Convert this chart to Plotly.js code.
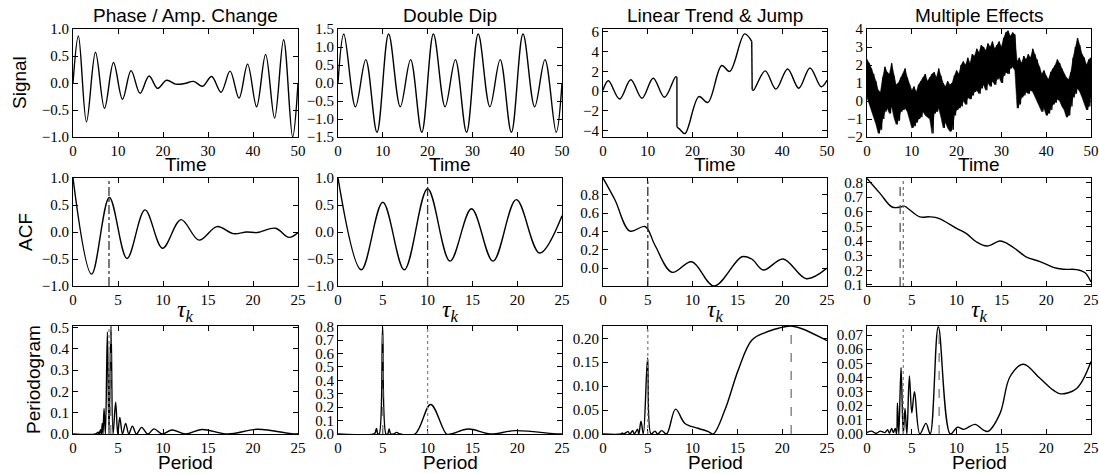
<!DOCTYPE html>
<html><head><meta charset="utf-8">
<script src="https://cdn.plot.ly/plotly-3.0.1.min.js"></script>
<style>html,body{margin:0;padding:0;background:#fff}#chart{width:1099px;height:473px}</style>
</head><body><div id="chart"></div>
<script>
// ---------- column titles & axis labels ----------
const columnTitles = ["Phase / Amp. Change", "Double Dip", "Linear Trend & Jump", "Multiple Effects"];
const rowLabels = ["Signal", "ACF", "Periodogram"];
const rowXLabels = ["Time", "<i>τ</i><sub><i>k</i></sub>", "Period"];

// ---------- Row 1: signals (extrema) ----------
const sig1T = [0, 1.2, 3.0, 5.0, 7.0, 9.0, 11.0, 12.9, 14.9, 16.9, 18.8, 20.8, 22.8, 24.8, 26.8, 28.8, 30.8, 32.9, 34.9, 36.9, 38.8, 40.8, 42.8, 44.8, 46.8, 48.8, 50];
const sig1V = [0, 0.87, -0.72, 0.57, -0.47, 0.38, -0.30, 0.23, -0.19, 0.13, -0.10, 0.05, -0.02, -0.01, 0.03, -0.06, 0.12, -0.17, 0.22, -0.28, 0.35, -0.44, 0.53, -0.65, 0.80, -1.0, 0.0];

const sig2T = [0, 1.3, 3.9, 6.2, 8.7, 11.3, 13.9, 16.2, 18.7, 21.3, 23.9, 26.2, 28.7, 31.3, 33.9, 36.2, 38.7, 41.3, 43.9, 46.2, 48.7, 50];
const sig2V = [0, 1.36, -0.66, 0.65, -1.37, 1.36, -0.66, 0.65, -1.37, 1.36, -0.66, 0.65, -1.37, 1.36, -0.66, 0.65, -1.37, 1.36, -0.66, 0.65, -1.37, 0.0];

const sig3aT = [0, 1.2, 3.7, 6.2, 8.7, 11.2, 13.7, 16.2, 16.5];
const sig3aV = [0.1, 1.05, -0.8, 1.15, -0.72, 1.3, -0.62, 1.45, 1.4];
const sig3bT = [16.5, 17.1, 18.3, 21.4, 23.4, 26.5, 28.3, 31.6, 33.2];
const sig3bV = [-3.6, -3.85, -4.3, -0.55, -1.15, 2.6, 2.0, 5.8, 5.05];
const sig3cT = [33.3, 33.6, 36.2, 38.6, 41.2, 43.7, 46.2, 48.7, 50];
const sig3cV = [0.15, 0.1, 2.05, 0.2, 2.25, 0.3, 2.35, 0.45, 1.1];

// noisy signal: upper / lower envelope every 0.5 time units (t = 0 ... 50)
const sig4Hi = [2.3,2.1,1.8,1.5,1.1,0.6,0.5,1.3,1.9,1.6,1.5,2.1,1.4,0.9,1.0,1.3,1.5,1.8,1.3,0.9,
  0.6,0.8,0.5,0.9,1.1,1.3,1.5,1.1,1.3,1.5,1.6,1.3,1.8,1.4,1.0,0.8,1.1,0.9,1.0,1.4,
  1.7,1.5,2.0,2.2,2.0,2.4,2.1,2.6,2.5,2.9,2.7,3.1,3.0,2.8,3.2,3.0,3.3,2.9,3.1,3.3,
  3.0,3.5,3.8,3.9,3.6,3.8,3.7,2.2,2.4,2.1,2.5,2.3,2.6,2.4,2.9,2.6,2.3,1.9,1.5,1.7,
  1.4,1.2,1.6,1.8,2.0,2.3,2.1,1.8,1.5,1.3,1.2,1.6,2.4,3.0,3.5,3.1,2.6,2.4,2.0,2.3,2.4];
const sig4Lo = [0.2,-0.2,-0.6,-0.9,-1.3,-1.8,-1.6,-1.0,-0.6,-0.4,-0.7,-0.3,-0.9,-1.3,-1.1,-0.6,-0.5,-0.4,-0.6,-1.0,
  -1.5,-1.4,-1.2,-1.0,-0.9,-0.6,-0.8,-0.9,-1.0,-1.8,-0.7,-0.6,-0.4,-0.9,-1.5,-1.2,-1.5,-1.7,-1.6,-0.8,
  -0.5,-0.4,-0.3,0.0,-0.2,0.2,0.1,0.3,0.5,0.6,0.4,0.7,0.9,0.6,1.0,0.8,1.1,0.9,1.2,1.3,
  1.0,1.4,1.6,1.5,1.8,1.9,1.7,-0.4,-0.2,0.2,0.3,0.5,0.4,0.6,0.5,0.3,0.0,-0.3,-0.6,-0.4,
  -0.8,-0.7,-0.5,-0.2,-0.1,0.1,0.0,-0.3,-0.5,-0.9,-0.8,-0.3,0.2,0.4,0.7,0.5,0.2,-0.1,-0.5,-0.3,0.3];

// ---------- Row 2: ACF ----------
const acf1T = [0, 2.07, 4.04, 6.0, 8.0, 9.95, 12.0, 14.0, 16.0, 17.8, 19.3, 20.5, 22.5, 24.0, 25];
const acf1V = [1.0, -0.78, 0.64, -0.49, 0.41, -0.30, 0.23, -0.15, 0.10, -0.03, 0.0, -0.01, 0.07, -0.10, -0.01];
const acf2T = [0, 2.6, 5.0, 7.4, 10.0, 12.5, 14.9, 17.3, 19.9, 22.5, 25];
const acf2V = [1.0, -0.70, 0.55, -0.70, 0.80, -0.54, 0.43, -0.54, 0.60, -0.39, 0.30];
const acf3T = [0, 1.34, 3.0, 4.7, 5.8, 7.7, 9.9, 12.4, 15.5, 16.6, 17.9, 20.1, 22.7, 25];
const acf3V = [0.985, 0.745, 0.405, 0.455, 0.25, -0.045, 0.07, -0.195, 0.125, 0.10, -0.02, 0.10, -0.115, 0.0];
const acf4T = [0, 1.45, 2.8, 3.8, 4.1, 5.9, 7.0, 8.0, 10.0, 11.1, 12.2, 13.4, 14.8, 15.4, 16.7, 17.8, 19.3, 20.8, 21.9, 23.4, 24.3, 25];
const acf4V = [0.827, 0.725, 0.632, 0.633, 0.64, 0.565, 0.565, 0.555, 0.486, 0.45, 0.395, 0.366, 0.40, 0.39, 0.34, 0.29, 0.26, 0.22, 0.207, 0.205, 0.185, 0.12];

// ---------- Row 3: periodograms ----------
const per1P = [0, 2.5, 2.8, 2.9, 3.05, 3.15, 3.25, 3.33, 3.45, 3.6, 3.82, 4.0, 4.22, 4.45, 4.74, 4.97, 5.2, 5.5, 5.85, 6.2, 6.6, 7.05, 7.63, 8.3, 9.0, 9.9, 11.0, 12.5, 14.3, 17.2, 20.5, 24.5, 25];
const per1V = [0, 0, 0.008, 0, 0.02, 0, 0.05, 0, 0.12, 0, 0.48, 0, 0.508, 0, 0.15, 0, 0.078, 0, 0.05, 0, 0.037, 0, 0.031, 0, 0.024, 0, 0.019, 0, 0.021, 0, 0.022, 0, 0.001];
const per2P = [0, 4.0, 4.15, 4.3, 4.45, 4.6, 4.98, 5.36, 5.55, 5.7, 5.9, 6.2, 6.55, 6.9, 8.6, 10.34, 12.1, 12.6, 14.55, 17.0, 19.75, 24.5, 25];
const per2V = [0, 0, 0.01, 0.042, 0, 0, 0.80, 0, 0, 0.037, 0, 0, 0.012, 0, 0, 0.22, 0, 0, 0.037, 0, 0.025, 0, 0];
const per3P = [0, 2.0, 2.16, 2.3, 2.8, 3.0, 3.3, 3.5, 3.85, 4.0, 4.24, 4.5, 4.98, 5.36, 5.8, 6.1, 6.55, 7.1, 8.1, 9.15, 10.6, 11.75, 12.3, 13.6, 15.1, 16.6, 18.1, 19.6, 20.9, 22.2, 24.8, 25];
const per3V = [0, 0, 0.002, 0, 0.005, 0, 0.007, 0, 0.01, 0, 0.027, 0, 0.159, 0, 0.006, 0, 0.007, 0, 0.052, 0.022, 0.012, 0.005, 0, 0.05, 0.134, 0.196, 0.212, 0.221, 0.2257, 0.22, 0.197, 0.195];
const per4P = [0, 0.5, 1.0, 1.5, 2.0, 2.3, 2.5, 2.75, 2.95, 3.15, 3.3, 3.4, 3.55, 3.8, 4.05, 4.24, 4.45, 4.73, 5.0, 5.3, 5.9, 6.58, 7.05, 7.96, 9.3, 10.08, 10.8, 12.05, 13.0, 13.5, 14.85, 15.96, 17.45, 19.3, 20.8, 21.6, 23.4, 25];
const per4V = [0.001, 0.002, 0.0005, 0.002, 0.001, 0.003, 0.0005, 0.004, 0.001, 0.004, 0, 0.022, 0, 0.047, 0, 0.018, 0, 0.041, 0.015, 0.030, 0, 0.0075, 0, 0.0759, 0, 0.0048, 0.0033, 0.0068, 0.0028, 0.0019, 0.0146, 0.0405, 0.0493, 0.0394, 0.031, 0.0284, 0.0322, 0.0512];

// ---------- marker (vertical reference) lines ----------
const acfDashDotLag = [4.0, 10.0, 5.0, null];
const acfDashedLag = [null, null, null, 3.7];
const acfDottedLag = [null, null, null, 4.05];
const perDashed = [4.2, 5.0, 21.0, 8.05];
const perDotted = [4.0, 10.0, 5.0, 4.05];

// ---------- layout helpers ----------
const W = 1099, H = 473;
const colPx = [[73, 298], [338, 562], [603, 827], [867, 1091]];
const rowPx = [[29, 137], [178, 286], [326, 434]];
const xdom = c => [colPx[c][0] / W, colPx[c][1] / W];
const ydom = r => [1 - rowPx[r][1] / H, 1 - rowPx[r][0] / H];

const axisSpec = [
  {xr: [0, 50], xd: 10, yr: [-1, 1], y0: -1, yd: 0.5, f: '.1f'},
  {xr: [0, 50], xd: 10, yr: [-1.5, 1.5], y0: -1.5, yd: 0.5, f: '.1f'},
  {xr: [0, 50], xd: 10, yr: [-4.65, 6.3], y0: -4, yd: 2, f: 'd'},
  {xr: [0, 50], xd: 10, yr: [-2, 4], y0: -2, yd: 1, f: 'd'},
  {xr: [0, 25], xd: 5, yr: [-1, 1], y0: -1, yd: 0.5, f: '.1f'},
  {xr: [0, 25], xd: 5, yr: [-1, 1], y0: -1, yd: 0.5, f: '.1f'},
  {xr: [0, 25], xd: 5, yr: [-0.195, 0.985], y0: 0, yd: 0.2, f: '.1f'},
  {xr: [0, 25], xd: 5, yr: [0.093, 0.83], y0: 0.1, yd: 0.1, f: '.1f'},
  {xr: [0, 25], xd: 5, yr: [0, 0.508], y0: 0, yd: 0.1, f: '.1f'},
  {xr: [0, 25], xd: 5, yr: [0, 0.805], y0: 0, yd: 0.1, f: '.1f'},
  {xr: [0, 25], xd: 5, yr: [0, 0.2257], y0: 0, yd: 0.05, f: '.2f'},
  {xr: [0, 25], xd: 5, yr: [0, 0.0764], y0: 0, yd: 0.01, f: '.2f'}
];

const tickFont = {family: 'Liberation Serif, DejaVu Serif, serif', size: 15, color: 'black'};
const sansFont = {family: 'Liberation Sans, Arial, sans-serif', size: 19, color: 'black'};

const layout = {
  width: W, height: H, margin: {l: 0, r: 0, t: 0, b: 0},
  paper_bgcolor: 'white', plot_bgcolor: 'white', showlegend: false,
  font: tickFont, annotations: [], shapes: []
};

function axName(k) { return k === 0 ? '' : String(k + 1); }

axisSpec.forEach((s, k) => {
  const r = Math.floor(k / 4), c = k % 4, n = axName(k);
  layout['xaxis' + n] = {
    domain: xdom(c), range: s.xr, anchor: 'y' + n,
    showline: true, mirror: 'ticks', linecolor: 'black', linewidth: 1,
    ticks: 'inside', ticklen: 5, tickwidth: 1, tickcolor: 'black',
    showgrid: false, zeroline: false, tickmode: 'linear', tick0: 0, dtick: s.xd,
    tickfont: tickFont, fixedrange: true
  };
  layout['yaxis' + n] = {
    domain: ydom(r), range: s.yr, anchor: 'x' + n,
    showline: true, mirror: 'ticks', linecolor: 'black', linewidth: 1,
    ticks: 'inside', ticklen: 5, tickwidth: 1, tickcolor: 'black',
    showgrid: false, zeroline: false, tickmode: 'linear', tick0: s.y0, dtick: s.yd,
    tickformat: s.f, tickfont: tickFont, fixedrange: true
  };
});

const traces = [];
const lineStyle = {color: 'black', width: 1.4, shape: 'spline', smoothing: 1};
function addCurve(k, x, y, style, extra) {
  const n = axName(k);
  traces.push(Object.assign({type: 'scatter', mode: 'lines', x: x, y: y, xaxis: 'x' + n, yaxis: 'y' + n,
    line: Object.assign({}, lineStyle, style || {}), hoverinfo: 'skip'}, extra || {}));
}

// row 1
addCurve(0, sig1T, sig1V);
addCurve(1, sig2T, sig2V);
addCurve(2, sig3aT, sig3aV);
addCurve(2, sig3bT, sig3bV);
addCurve(2, sig3cT, sig3cV);
addCurve(2, [sig3aT[sig3aT.length - 1], sig3bT[0]], [sig3aV[sig3aV.length - 1], sig3bV[0]], {shape: 'linear'});
addCurve(2, [sig3bT[sig3bT.length - 1], sig3cT[0]], [sig3bV[sig3bV.length - 1], sig3cV[0]], {shape: 'linear'});
// noisy signal: solid band between envelopes + dense zig-zag for jagged edges
(function () {
  const bx = [], by = [], zx = [], zy = [];
  for (let i = 0; i < sig4Hi.length; i++) { bx.push(i * 0.5); by.push(sig4Hi[i]); }
  for (let i = sig4Lo.length - 1; i >= 0; i--) { bx.push(i * 0.5); by.push(sig4Lo[i]); }
  addCurve(3, bx, by, {shape: 'linear', width: 0.5}, {fill: 'toself', fillcolor: 'black'});
  for (let i = 0; i < sig4Hi.length; i++) {
    const t = i * 0.5;
    zx.push(t); zy.push(sig4Hi[i]);
    zx.push(Math.min(t + 0.25, 50)); zy.push(sig4Lo[i]);
  }
  addCurve(3, zx, zy, {shape: 'linear', width: 1.3});
})();

// row 2
addCurve(4, acf1T, acf1V);
addCurve(5, acf2T, acf2V);
addCurve(6, acf3T, acf3V);
addCurve(7, acf4T, acf4V);
// row 3
addCurve(8, per1P, per1V);
addCurve(9, per2P, per2V);
addCurve(10, per3P, per3V);
addCurve(11, per4P, per4V);

function vline(k, x, dash, color) {
  if (x === null || x === undefined) return;
  const n = axName(k);
  layout.shapes.push({type: 'line', xref: 'x' + n, yref: 'y' + n + ' domain', x0: x, x1: x, y0: 0, y1: 1,
    line: {color: color, width: 1.3, dash: dash}, layer: 'above'});
}
for (let c = 0; c < 4; c++) {
  vline(4 + c, acfDashDotLag[c], 'dashdot', '#333');
  vline(4 + c, acfDashedLag[c], 'dash', '#555');
  vline(4 + c, acfDottedLag[c], 'dot', '#777');
  vline(8 + c, perDotted[c], 'dot', '#888');
  vline(8 + c, perDashed[c], 'dash', '#777');
}

const labelYpx = [165, 311, 462];
for (let c = 0; c < 4; c++) {
  const cx = (colPx[c][0] + colPx[c][1]) / 2 / W;
  layout.annotations.push({text: columnTitles[c], xref: 'paper', yref: 'paper', x: cx, y: 1 - 15 / H,
    xanchor: 'center', yanchor: 'middle', showarrow: false, font: sansFont});
  for (let r = 0; r < 3; r++) {
    const isTau = r === 1;
    layout.annotations.push({text: rowXLabels[r], xref: 'paper', yref: 'paper', x: cx, y: 1 - labelYpx[r] / H,
      xanchor: 'center', yanchor: 'middle', showarrow: false,
      font: isTau ? {family: 'Liberation Serif, DejaVu Serif, serif', size: 24, color: 'black'} : sansFont});
  }
}
const rowLabelXpx = [19, 25, 33];
for (let r = 0; r < 3; r++) {
  const cy = 1 - (rowPx[r][0] + rowPx[r][1]) / 2 / H;
  layout.annotations.push({text: rowLabels[r], xref: 'paper', yref: 'paper', x: rowLabelXpx[r] / W, y: cy,
    xanchor: 'center', yanchor: 'middle', textangle: -90, showarrow: false, font: sansFont});
}

Plotly.newPlot('chart', traces, layout, {staticPlot: true, displayModeBar: false});
</script></body></html>
